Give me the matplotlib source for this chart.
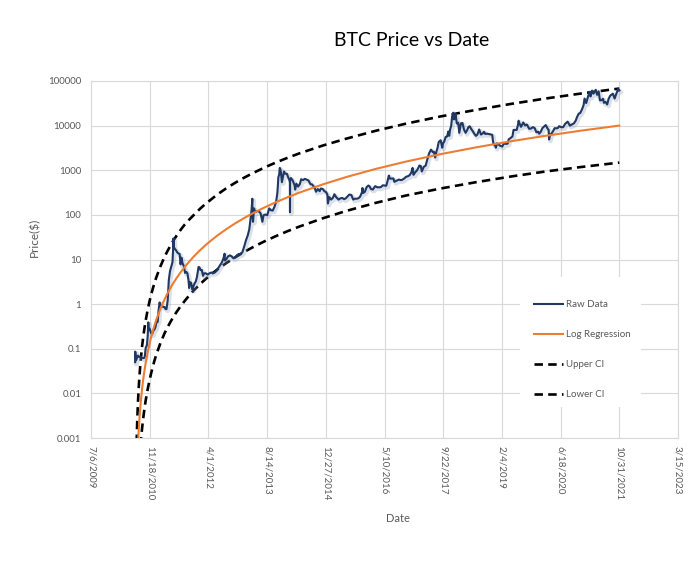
import matplotlib
matplotlib.use("Agg")
import matplotlib.pyplot as plt
import matplotlib.patheffects as pe
from matplotlib.patches import Rectangle
import pandas as pd

plt.rcParams['font.family'] = ['Lato', 'DejaVu Sans']

# ---------------- data ----------------
raw_dates = [
    "2010-07-17", "2010-07-18", "2010-07-20", "2010-07-25", "2010-08-01", "2010-08-10", "2010-08-20",
    "2010-09-01", "2010-09-15", "2010-10-01", "2010-10-07", "2010-10-15", "2010-10-25", "2010-11-01",
    "2010-11-06", "2010-11-10", "2010-11-18", "2010-11-28", "2010-12-08", "2010-12-18", "2010-12-28",
    "2011-01-05", "2011-01-15", "2011-01-25", "2011-02-01", "2011-02-10", "2011-02-15", "2011-02-25",
    "2011-03-05", "2011-03-15", "2011-03-25", "2011-04-01", "2011-04-10", "2011-04-20", "2011-04-30",
    "2011-05-10", "2011-05-20", "2011-05-31", "2011-06-05", "2011-06-08", "2011-06-12", "2011-06-19",
    "2011-06-30", "2011-07-10", "2011-07-20", "2011-07-31", "2011-08-08", "2011-08-15", "2011-08-25",
    "2011-09-05", "2011-09-15", "2011-09-25", "2011-10-05", "2011-10-15", "2011-10-20", "2011-10-28",
    "2011-11-05", "2011-11-18", "2011-11-25", "2011-12-05", "2011-12-15", "2011-12-25", "2012-01-08",
    "2012-01-15", "2012-01-25", "2012-02-05", "2012-02-15", "2012-02-25", "2012-03-10", "2012-03-25",
    "2012-04-10", "2012-04-25", "2012-05-10", "2012-05-25", "2012-06-10", "2012-06-25", "2012-07-10",
    "2012-07-25", "2012-08-10", "2012-08-17", "2012-08-20", "2012-09-01", "2012-09-15", "2012-10-01",
    "2012-10-15", "2012-11-01", "2012-11-15", "2012-12-01", "2012-12-15", "2013-01-01", "2013-01-15",
    "2013-02-01", "2013-02-15", "2013-03-01", "2013-03-15", "2013-03-28", "2013-04-05", "2013-04-10",
    "2013-04-12", "2013-04-16", "2013-04-25", "2013-05-05", "2013-05-20", "2013-06-05", "2013-06-20",
    "2013-07-05", "2013-07-15", "2013-07-30", "2013-08-15", "2013-09-01", "2013-09-15", "2013-10-01",
    "2013-10-15", "2013-10-30", "2013-11-10", "2013-11-18", "2013-11-25", "2013-11-30", "2013-12-05",
    "2013-12-10", "2013-12-18", "2013-12-25", "2014-01-05", "2014-01-15", "2014-01-30", "2014-02-10",
    "2014-02-20", "2014-02-24", "2014-02-25", "2014-02-26", "2014-03-05", "2014-03-20", "2014-04-05",
    "2014-04-10", "2014-04-20", "2014-05-05", "2014-05-20", "2014-05-31", "2014-06-15", "2014-07-01",
    "2014-07-15", "2014-08-01", "2014-08-18", "2014-09-01", "2014-09-20", "2014-10-05", "2014-10-20",
    "2014-11-05", "2014-11-15", "2014-12-01", "2014-12-15", "2014-12-31", "2015-01-10", "2015-01-14",
    "2015-01-25", "2015-02-10", "2015-02-25", "2015-03-10", "2015-03-25", "2015-04-15", "2015-05-01",
    "2015-05-15", "2015-06-01", "2015-06-15", "2015-07-01", "2015-07-15", "2015-08-01", "2015-08-18",
    "2015-09-01", "2015-09-15", "2015-10-01", "2015-10-15", "2015-11-01", "2015-11-04", "2015-11-11",
    "2015-11-25", "2015-12-10", "2015-12-25", "2016-01-05", "2016-01-15", "2016-02-01", "2016-02-20",
    "2016-03-10", "2016-03-25", "2016-04-10", "2016-04-25", "2016-05-10", "2016-05-25", "2016-06-05",
    "2016-06-16", "2016-06-25", "2016-07-10", "2016-07-25", "2016-08-02", "2016-08-20", "2016-09-10",
    "2016-09-25", "2016-10-10", "2016-10-25", "2016-11-10", "2016-11-25", "2016-12-10", "2016-12-25",
    "2017-01-04", "2017-01-12", "2017-01-25", "2017-02-10", "2017-02-25", "2017-03-03", "2017-03-15",
    "2017-03-24", "2017-04-10", "2017-04-25", "2017-05-10", "2017-05-25", "2017-06-10", "2017-06-25",
    "2017-07-05", "2017-07-16", "2017-07-25", "2017-08-05", "2017-08-15", "2017-08-31", "2017-09-14",
    "2017-09-20", "2017-10-01", "2017-10-13", "2017-10-25", "2017-11-05", "2017-11-12", "2017-11-20",
    "2017-11-29", "2017-12-07", "2017-12-17", "2017-12-22", "2017-12-28", "2018-01-06", "2018-01-16",
    "2018-01-28", "2018-02-06", "2018-02-20", "2018-03-05", "2018-03-18", "2018-04-01", "2018-04-15",
    "2018-04-25", "2018-05-05", "2018-05-20", "2018-06-01", "2018-06-15", "2018-06-28", "2018-07-10",
    "2018-07-25", "2018-08-10", "2018-08-25", "2018-09-05", "2018-09-15", "2018-10-01", "2018-10-15",
    "2018-11-01", "2018-11-14", "2018-11-20", "2018-11-25", "2018-12-05", "2018-12-15", "2018-12-24",
    "2019-01-05", "2019-01-20", "2019-02-07", "2019-02-20", "2019-03-10", "2019-03-25", "2019-04-03",
    "2019-04-20", "2019-05-05", "2019-05-14", "2019-05-25", "2019-06-10", "2019-06-22", "2019-06-26",
    "2019-07-05", "2019-07-17", "2019-08-05", "2019-08-20", "2019-09-05", "2019-09-24", "2019-10-10",
    "2019-10-25", "2019-11-10", "2019-11-25", "2019-12-10", "2019-12-18", "2019-12-31", "2020-01-15",
    "2020-02-12", "2020-02-28", "2020-03-08", "2020-03-12", "2020-03-20", "2020-04-05", "2020-04-29",
    "2020-05-10", "2020-05-25", "2020-06-05", "2020-06-25", "2020-07-10", "2020-07-27", "2020-08-17",
    "2020-09-05", "2020-09-25", "2020-10-10", "2020-10-25", "2020-11-05", "2020-11-20", "2020-12-01",
    "2020-12-17", "2020-12-31", "2021-01-08", "2021-01-22", "2021-02-08", "2021-02-21", "2021-02-28",
    "2021-03-13", "2021-03-25", "2021-04-13", "2021-04-25", "2021-05-08", "2021-05-19", "2021-05-31",
    "2021-06-15", "2021-06-22", "2021-07-05", "2021-07-20", "2021-08-01", "2021-08-15", "2021-09-06",
    "2021-09-21", "2021-10-01", "2021-10-15", "2021-10-20", "2021-10-28", "2021-10-31",
]
raw_prices = [
    0.05, 0.086, 0.075, 0.055, 0.062, 0.07, 0.066,
    0.064, 0.062, 0.062, 0.067, 0.105, 0.12, 0.19,
    0.39, 0.26, 0.28, 0.23, 0.21, 0.25, 0.27,
    0.30, 0.39, 0.40, 0.70, 1.09, 1.00, 0.90,
    0.90, 0.86, 0.86, 0.78, 0.77, 1.20, 3.50,
    5.5, 6.8, 8.7, 16.0, 29.6, 19.0, 17.5,
    16.1, 14.5, 13.7, 13.3, 7.8, 11.0, 8.2,
    7.1, 5.0, 5.3, 4.9, 3.4, 2.3, 3.1,
    3.0, 2.1, 2.5, 2.9, 3.2, 4.0, 6.8,
    6.7, 5.8, 5.8, 4.3, 4.9, 4.9, 4.6,
    4.9, 5.1, 5.0, 5.1, 5.6, 6.5, 7.5,
    8.6, 11.2, 13.5, 9.5, 10.2, 11.7, 12.4,
    11.8, 10.6, 11.2, 12.5, 13.3, 13.3, 14.5,
    20, 27, 34, 47, 90, 143, 230,
    100, 70, 140, 115, 122, 120, 108,
    70, 98, 102, 98, 140, 127, 125,
    150, 198, 320, 700, 800, 1130, 1050,
    900, 540, 670, 940, 840, 830, 690,
    600, 550, 115, 580, 670, 590, 460,
    370, 500, 430, 490, 630, 600, 640,
    620, 590, 490, 480, 420, 330, 380,
    340, 390, 380, 340, 320, 280, 180,
    250, 220, 240, 290, 250, 220, 235,
    240, 225, 235, 260, 285, 280, 220,
    230, 230, 236, 255, 325, 400, 310,
    330, 420, 455, 430, 380, 370, 440,
    415, 415, 420, 460, 455, 450, 575,
    760, 650, 650, 655, 550, 580, 620,
    600, 615, 655, 715, 735, 775, 900,
    1130, 790, 890, 990, 1170, 1280, 1240,
    940, 1200, 1260, 1760, 2400, 2900, 2550,
    2600, 1930, 2550, 3200, 4300, 4700, 3200,
    4000, 4400, 5600, 5700, 7400, 5900, 8200,
    9900, 16000, 19500, 13800, 14500, 17200, 11200,
    11600, 6900, 11200, 11500, 8200, 6900, 8000,
    9300, 9700, 8300, 7500, 6500, 5900, 6300,
    8200, 6300, 6700, 7300, 6500, 6600, 6500,
    6350, 6200, 4500, 3800, 3800, 3200, 4000,
    3800, 3550, 3400, 3950, 3900, 3950, 4950,
    5300, 5750, 8000, 8050, 8000, 10700, 12900,
    11000, 9400, 11800, 10100, 10600, 8500, 8600,
    9250, 8800, 7100, 7300, 6600, 7200, 8800,
    10300, 8600, 8000, 4900, 6200, 6800, 8800,
    8700, 8800, 9700, 9200, 9250, 11000, 12300,
    10000, 10700, 11300, 13000, 15600, 18700, 19000,
    23000, 29000, 40500, 32000, 46000, 57500, 45000,
    61000, 52000, 63500, 49000, 58800, 37000, 37000,
    40000, 32500, 34000, 29800, 40000, 47000, 52000,
    40500, 48000, 61600, 66000, 60600, 61300,
]

curve_dates = [
    "2010-07-27", "2010-08-01", "2010-08-06", "2010-08-11", "2010-08-16", "2010-08-23", "2010-08-31",
    "2010-09-07", "2010-09-15", "2010-09-22", "2010-09-30", "2010-10-07", "2010-10-15", "2010-10-30",
    "2010-11-14", "2010-11-29", "2010-12-14", "2010-12-29", "2011-01-13", "2011-02-17", "2011-03-24",
    "2011-04-18", "2011-05-13", "2011-06-07", "2011-07-02", "2011-08-06", "2011-09-10", "2011-10-20",
    "2011-11-29", "2012-01-18", "2012-03-08", "2012-04-27", "2012-06-16", "2012-08-30", "2012-11-13",
    "2013-01-27", "2013-04-12", "2013-07-21", "2013-10-29", "2014-02-06", "2014-05-17", "2014-12-03",
    "2015-06-21", "2016-02-26", "2016-11-02", "2017-08-29", "2018-06-25", "2019-04-21", "2020-02-15",
    "2020-12-11", "2021-10-31",
]
log_regression = [
    4.28e-5, 1.56e-4, 3.93e-4, 8.02e-4, 1.44e-3, 2.81e-3, 5.26e-3,
    8.36e-3, 0.0132, 0.0188, 0.0270, 0.0359, 0.0484, 0.0793,
    0.121, 0.177, 0.248, 0.337, 0.445, 0.785, 1.27,
    1.73, 2.28, 2.95, 3.74, 5.07, 6.70, 8.95,
    11.7, 15.9, 21.0, 27.1, 34.4, 47.6, 64.0,
    83.9, 108, 146, 193, 249, 316, 484,
    706, 1072, 1549, 2291, 3243, 4457, 5943,
    7727, 10020,
]
upper_ci = [
    3.81e-4, 1.39e-3, 3.50e-3, 7.14e-3, 0.0128, 0.0251, 0.0469,
    0.0745, 0.118, 0.168, 0.240, 0.320, 0.432, 0.706,
    1.08, 1.58, 2.21, 3.00, 3.96, 7.00, 11.4,
    15.4, 20.3, 26.3, 33.3, 45.2, 59.7, 78.0,
    99.8, 135, 177, 225, 286, 392, 520,
    675, 855, 1146, 1496, 1910, 2393, 3589,
    5117, 7674, 10965, 16032, 22440, 30620, 40640,
    52480, 67760,
]
lower_ci = [
    4.80e-6, 1.75e-5, 4.51e-5, 9.42e-5, 1.73e-4, 3.46e-4, 6.62e-4,
    1.08e-3, 1.74e-3, 2.54e-3, 3.72e-3, 5.07e-3, 7.00e-3, 0.0117,
    0.0184, 0.0274, 0.0394, 0.0546, 0.0738, 0.133, 0.221,
    0.300, 0.396, 0.513, 0.650, 0.881, 1.16, 1.56,
    2.04, 2.76, 3.65, 4.71, 5.97, 8.28, 11.1,
    14.6, 18.7, 25.4, 33.5, 43.3, 54.8, 84.1,
    123, 186, 269, 389, 538, 723, 942,
    1183, 1483,
]

x_tick_labels = ["7/6/2009", "11/18/2010", "4/1/2012", "8/14/2013", "12/27/2014", "5/10/2016",
                 "9/22/2017", "2/4/2019", "6/18/2020", "10/31/2021", "3/15/2023"]
y_tick_values = [0.001, 0.01, 0.1, 1, 10, 100, 1000, 10000, 100000]
y_tick_labels = ["0.001", "0.01", "0.1", "1", "10", "100", "1000", "10000", "100000"]

# ---------------- figure ----------------
W, H = 692, 563
fig = plt.figure(figsize=(W / 100, H / 100), dpi=100)
ax = fig.add_axes([91 / W, 1 - 438 / H, (678 - 91) / W, (438 - 81) / H])

grid_c = "#D9D9D9"
text_c = "#595959"

rd = pd.to_datetime(raw_dates)
cd = pd.to_datetime(curve_dates)

dash = (3.2, 2.0)
ax.plot(cd, upper_ci, color="black", lw=1.9, linestyle=(0, dash), label="Upper CI", zorder=3)
ax.plot(cd, lower_ci, color="black", lw=1.9, linestyle=(0, dash), label="Lower CI", zorder=3)
ax.plot(rd, raw_prices, color="#1F3864", lw=1.5, label="Raw Data", zorder=4,
        path_effects=[pe.SimpleLineShadow(offset=(1.0, -1.2), shadow_color="#8a9bb8", alpha=0.3, linewidth=3.2),
                      pe.Normal()])
ax.plot(cd, log_regression, color="#ED7D31", lw=1.5, label="Log Regression", zorder=5)

ax.set_yscale("log")
ax.set_ylim(0.001, 100000)
ax.set_yticks(y_tick_values)
ax.set_yticklabels(y_tick_labels)
ax.yaxis.set_minor_locator(matplotlib.ticker.NullLocator())

xt = pd.to_datetime(x_tick_labels, format="%m/%d/%Y")
ax.set_xlim(xt[0], xt[-1])
ax.set_xticks(xt)
ax.set_xticklabels(x_tick_labels, rotation=270, ha="center", va="top")

ax.grid(True, color=grid_c, lw=0.8)
ax.set_axisbelow(True)
for s in ax.spines.values():
    s.set_color(grid_c)
    s.set_linewidth(0.8)
ax.tick_params(axis="both", length=0, labelsize=7, labelcolor=text_c)
ax.tick_params(axis="y", pad=7)
ax.tick_params(axis="x", pad=6)

fig.text(412 / W, 1 - 40 / H, "BTC Price vs Date", ha="center", va="center", fontsize=14, color="black")
fig.text(398 / W, 1 - 519 / H, "Date", ha="center", va="center", fontsize=8, color=text_c)
fig.text(35 / W, 1 - 237 / H, "Price($)", ha="center", va="center", fontsize=8.5, color=text_c, rotation=90)

# white legend background box
fig.patches.append(Rectangle((520 / W, 1 - 407 / H), 121 / W, 130 / H, transform=fig.transFigure,
                             facecolor="white", edgecolor="none", zorder=1.5))
ax.set_zorder(0)
ax.patch.set_visible(False)
fig.patch.set_facecolor("white")

h, l = ax.get_legend_handles_labels()
order = [l.index(n) for n in ["Raw Data", "Log Regression", "Upper CI", "Lower CI"]]
leg = fig.legend([h[i] for i in order], [l[i] for i in order],
                 loc="upper left", bbox_to_anchor=(513 / W, 1 - 279 / H), bbox_transform=fig.transFigure,
                 frameon=False, fontsize=7, labelcolor=text_c, handlelength=2.9, handletextpad=0.35,
                 labelspacing=2.15, borderpad=2.2, borderaxespad=0)
leg.set_zorder(10)
for line in leg.get_lines():
    line.set_path_effects([])

fig.savefig("out.png", dpi=100, facecolor="white")
